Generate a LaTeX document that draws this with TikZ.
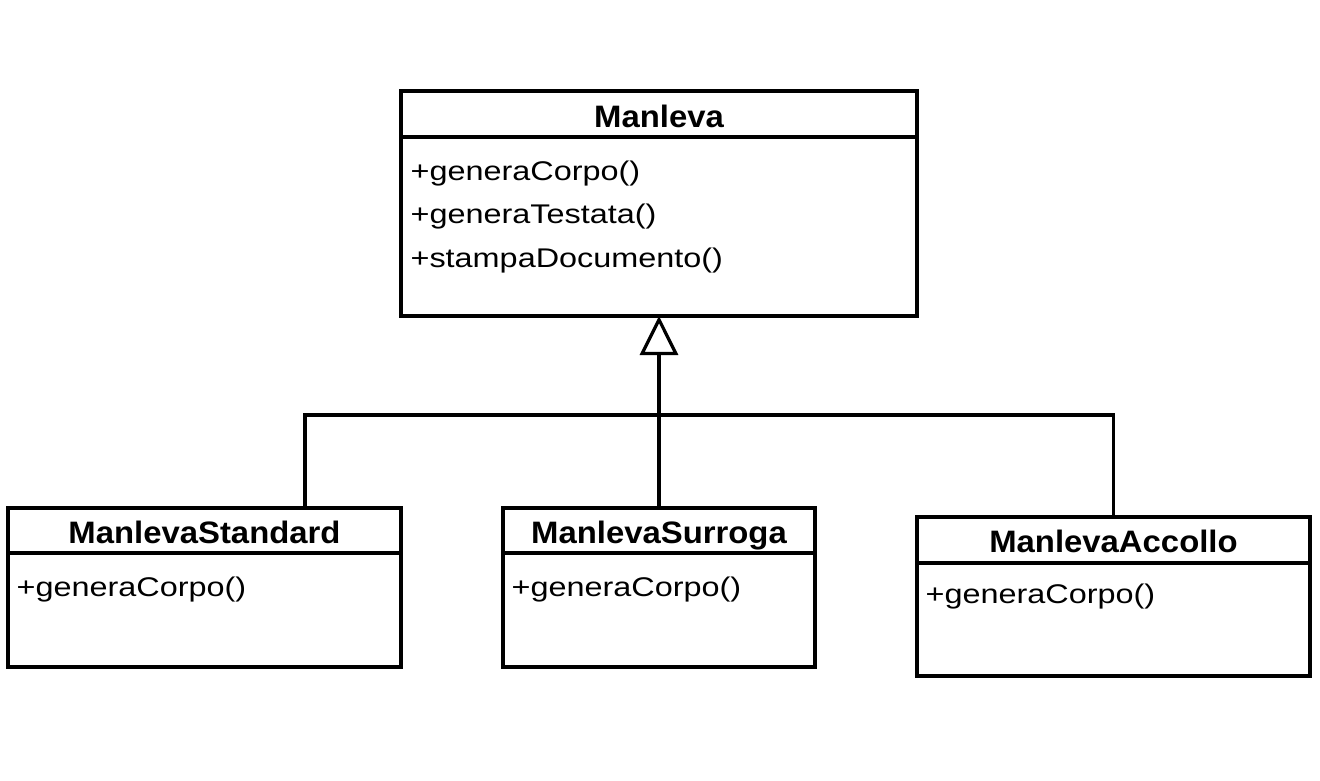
\documentclass[tikz,border=0pt]{standalone}
\usepackage{fontspec}
\setmainfont{Liberation Sans}
\newfontfamily\headfont{Liberation Sans}[FakeStretch=1.06]
\newfontfamily\opsfont{Liberation Sans}[FakeStretch=1.2]
\usetikzlibrary{arrows.meta}

\begin{document}
\begin{tikzpicture}[x=1pt,y=-1pt,line width=3.2pt]
		\useasboundingbox (0,0) rectangle (1320,780);
		% class boxes: name part and operation part
		\begin{scope}[every node/.style={rectangle,draw,inner sep=0pt,outer sep=0pt}]
		    \node[minimum width=516pt,minimum height=46pt,anchor=north west] (manleva) at (401,91) {};
		    \node[minimum width=516pt,minimum height=179pt,anchor=north] (manleva-body) at (manleva.south) {};
		    \node[minimum width=393pt,minimum height=45pt,anchor=north west] (standard) at (8,508) {};
		    \node[minimum width=393pt,minimum height=114pt,anchor=north] (standard-body) at (standard.south) {};
		    \node[minimum width=312pt,minimum height=45pt,anchor=north west] (surroga) at (503,508) {};
		    \node[minimum width=312pt,minimum height=114pt,anchor=north] (surroga-body) at (surroga.south) {};
		    \node[minimum width=393pt,minimum height=46pt,anchor=north west] (accollo) at (917,517) {};
		    \node[minimum width=393pt,minimum height=113pt,anchor=north] (accollo-body) at (accollo.south) {};
		\end{scope}
		
		\begin{scope}[every node/.style={inner sep=0pt,anchor=base,font=\headfont\bfseries\fontsize{31}{31}\selectfont}]
		    \node (manleva-name) at ([yshift=-13pt]manleva.center) {Manleva};
		    \node (standard-name) at ([yshift=-13pt]standard.center) {ManlevaStandard};
		    \node (surroga-name) at ([yshift=-13pt]surroga.center) {ManlevaSurroga};
		    \node (accollo-name) at ([yshift=-12pt]accollo.center) {ManlevaAccollo};
		\end{scope}
		
		\begin{scope}[every node/.style={inner sep=0pt,anchor=base west,font=\opsfont\fontsize{27}{27}\selectfont}]
		    \foreach \op [count=\i from 0] in {generaCorpo,generaTestata,stampaDocumento}
		        \node (manleva-op\i) at ([shift={(8,43+43.5*\i)}]manleva-body.north west) {+\op()};
		    \node (standard-op) at ([shift={(7,43)}]standard-body.north west) {+generaCorpo()};
		    \node (surroga-op) at ([shift={(7,43)}]surroga-body.north west) {+generaCorpo()};
		    \node (accollo-op) at ([shift={(7,40)}]accollo-body.north west) {+generaCorpo()};
		\end{scope}
		
		% generalisation
		\coordinate (bus) at (659,415);
		\draw[-{Triangle[open,length=39pt,width=38pt]}] (surroga.north) -- (manleva-body.south);
		\draw ([xshift=100.5pt]standard.north) |- (bus) -| (accollo.north);
\end{tikzpicture}
\end{document}
